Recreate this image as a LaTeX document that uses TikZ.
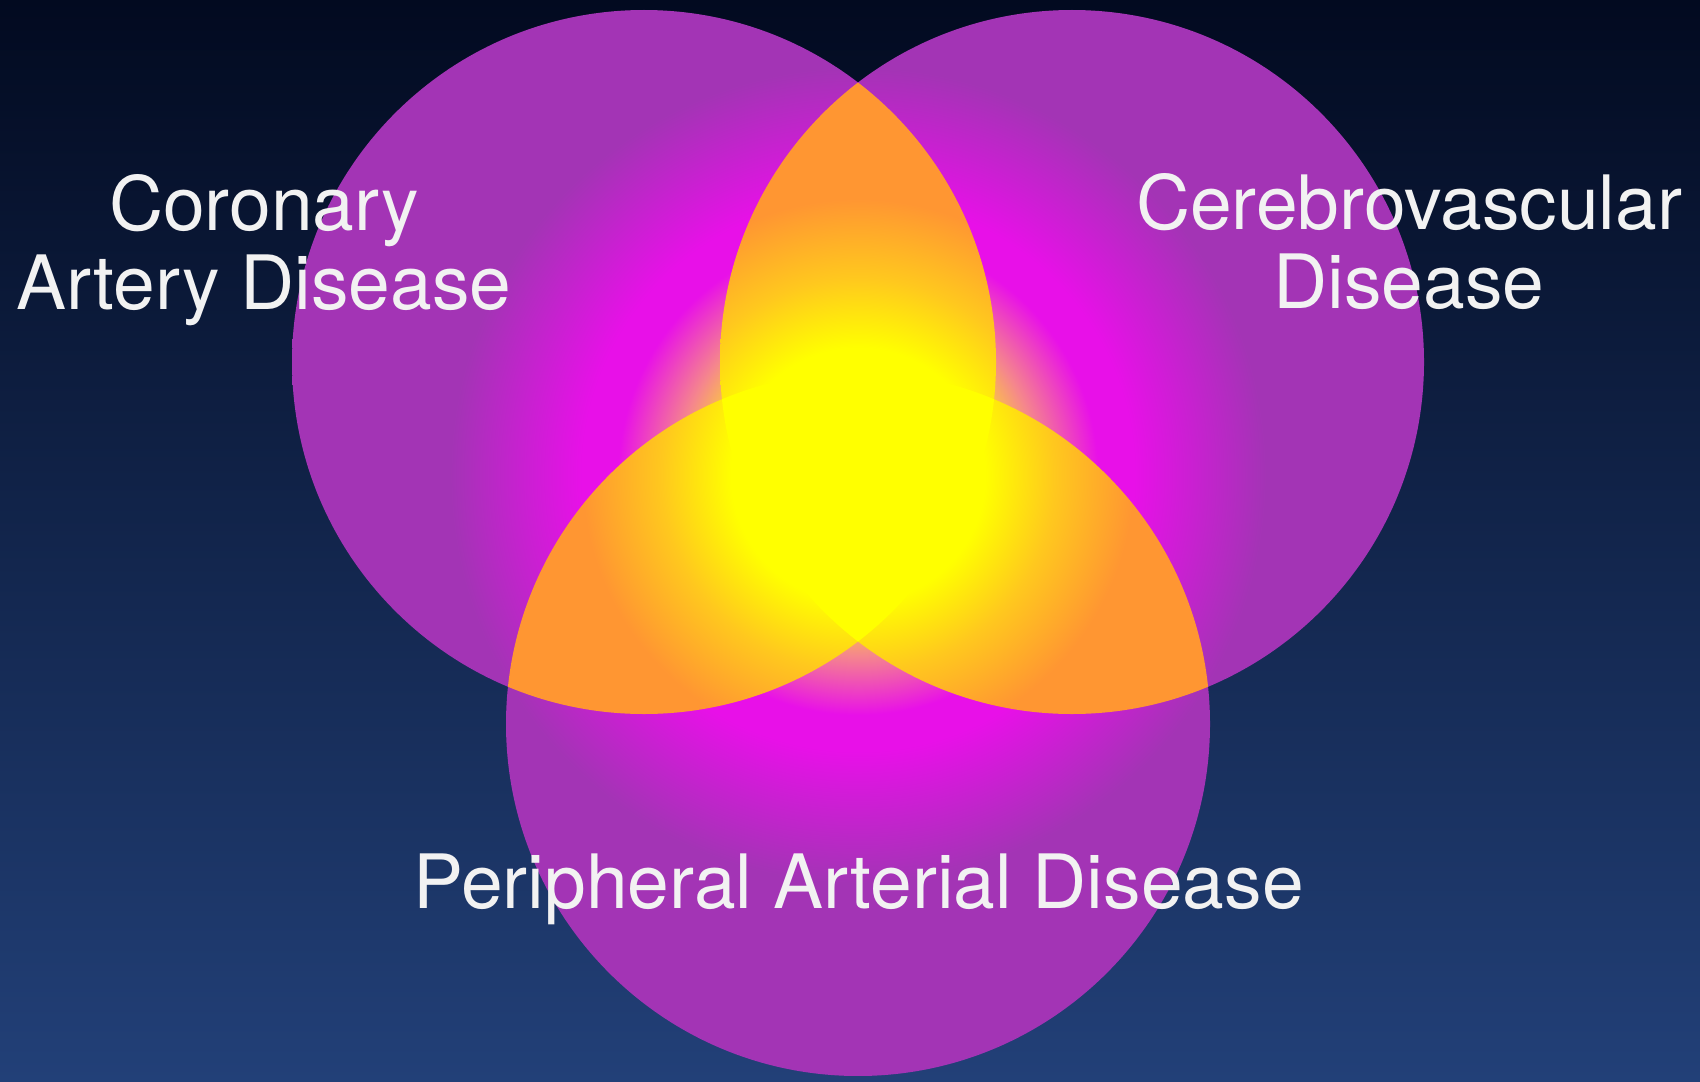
\documentclass[tikz,border=0pt]{standalone}
\usepackage{fontspec}
\setmainfont{TeX Gyre Heros}
\definecolor{bgtop}{RGB}{2,10,32}
\definecolor{bgmid}{RGB}{14,34,80}
\definecolor{bgbot}{RGB}{34,64,120}
\definecolor{cpurple}{RGB}{163,52,181}
\definecolor{cmagenta}{RGB}{232,16,232}
\definecolor{csalmon}{RGB}{245,135,140}
\definecolor{corange}{RGB}{255,150,50}
\definecolor{cyelor}{RGB}{255,200,30}
\definecolor{cyellow}{RGB}{255,255,0}
\definecolor{ctext}{RGB}{242,242,242}
% calibrated: 1bp corresponds to about 24px (full-size reference pixels)
\pgfdeclareradialshading{purpleglow}{\pgfpoint{0bp}{0bp}}{color(0bp)=(cyellow); color(5bp)=(cyellow); color(7.5bp)=(csalmon); color(10bp)=(cmagenta); color(11.5bp)=(cmagenta); color(17bp)=(cpurple); color(75bp)=(cpurple)}
\pgfdeclareradialshading{orangeglow}{\pgfpoint{0bp}{0bp}}{color(0bp)=(cyellow); color(5.3bp)=(cyellow); color(8.2bp)=(cyelor); color(11.5bp)=(corange); color(75bp)=(corange)}
\tikzset{
  vlabel/.style={text=ctext, font=\fontsize{37.5}{39.5}\selectfont, align=center, inner sep=0pt},
  glowbox/.style={draw=none}
}
\begin{document}
\begin{tikzpicture}[x=0.5pt,y=-0.5pt]
\useasboundingbox (0,0) rectangle (1700,1081);
\shade[top color=bgtop, middle color=bgmid, bottom color=bgbot] (0,0) rectangle (1700,1081);
\coordinate (c1) at (644,362);
\coordinate (c2) at (1072,362);
\coordinate (c3) at (858,724);
\coordinate (g) at (858,475);
% circles (union) with purple/magenta glow
\begin{scope}
  \clip (c1) circle[radius=352] (c2) circle[radius=352] (c3) circle[radius=352];
  \shade[shading=purpleglow, glowbox] (258,-125) rectangle (1458,1075);
\end{scope}
% pairwise intersections
\begin{scope}
  \clip (c1) circle[radius=352];
  \clip (c2) circle[radius=352];
  \shade[shading=orangeglow, glowbox] (258,-125) rectangle (1458,1075);
\end{scope}
\begin{scope}
  \clip (c1) circle[radius=352];
  \clip (c3) circle[radius=352];
  \shade[shading=orangeglow, glowbox] (258,-125) rectangle (1458,1075);
\end{scope}
\begin{scope}
  \clip (c2) circle[radius=352];
  \clip (c3) circle[radius=352];
  \shade[shading=orangeglow, glowbox] (258,-125) rectangle (1458,1075);
\end{scope}
% triple intersection
\begin{scope}
  \clip (c1) circle[radius=352];
  \clip (c2) circle[radius=352];
  \clip (c3) circle[radius=352];
  \fill[cyellow] (258,-125) rectangle (1458,1075);
\end{scope}
% labels
\node[vlabel] (cad) at (264,250) {Coronary\\Artery Disease};
\node[vlabel] (cvd) at (1409,242) {Cerebrovascular\\Disease};
\node[vlabel, anchor=base] (pad) at (858.5,908) {Peripheral Arterial Disease};
\end{tikzpicture}
\end{document}
